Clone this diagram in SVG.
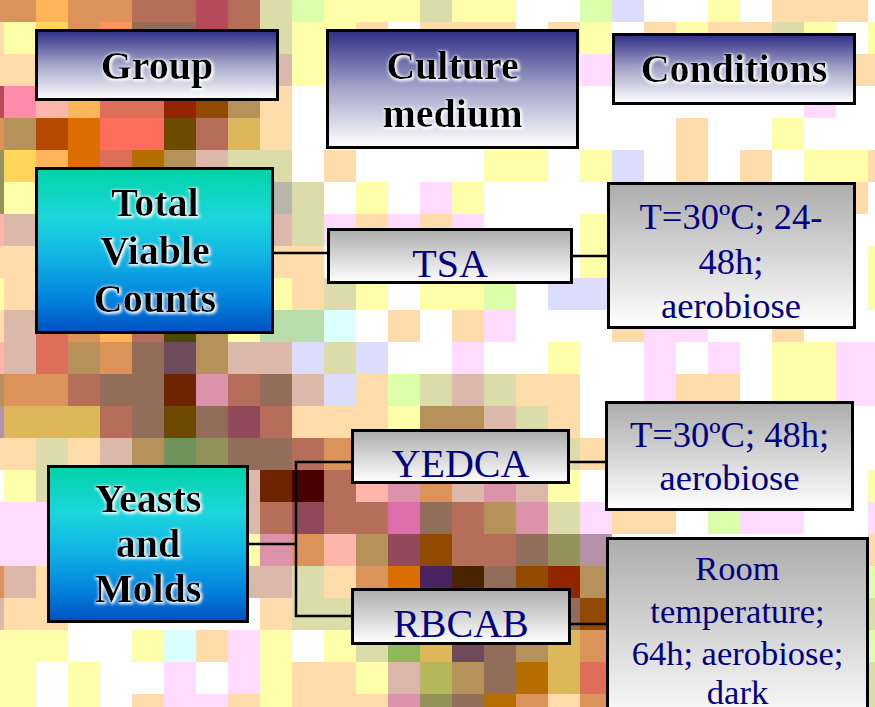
<svg xmlns="http://www.w3.org/2000/svg" width="875" height="707" viewBox="0 0 875 707">
<style>
.hb{font-family:"Liberation Serif","Times New Roman",serif;font-weight:bold;font-size:40px;fill:#000;text-anchor:middle}
.gt{font-family:"Liberation Serif","Times New Roman",serif;font-size:40px;fill:#000080;text-anchor:middle}
.box{stroke:#000;stroke-width:3}
.conn{fill:none;stroke:#000;stroke-width:2.5}
</style>
<defs>
<linearGradient id="gHead" x1="0" y1="0" x2="0" y2="1">
<stop offset="0" stop-color="#2d2d86"/><stop offset="0.5" stop-color="#a6a6ca"/><stop offset="1" stop-color="#ffffff"/>
</linearGradient>
<linearGradient id="gCyan" x1="0" y1="0" x2="0" y2="1">
<stop offset="0" stop-color="#00d4a6"/><stop offset="0.3" stop-color="#1cd6dc"/><stop offset="0.55" stop-color="#10b2e4"/><stop offset="0.8" stop-color="#0282dc"/><stop offset="1" stop-color="#0050c0"/>
</linearGradient>
<linearGradient id="gGray" x1="0" y1="0" x2="0" y2="1">
<stop offset="0" stop-color="#acacac"/><stop offset="1" stop-color="#ffffff"/>
</linearGradient>
<filter id="glow" x="-10%" y="-30%" width="120%" height="160%">
<feMorphology in="SourceAlpha" operator="dilate" radius="1.2" result="d"/>
<feGaussianBlur in="d" stdDeviation="1.5" result="b"/>
<feOffset in="b" dx="1" dy="1" result="o"/>
<feFlood flood-color="#ffffff"/>
<feComposite in2="o" operator="in" result="g"/>
<feMerge><feMergeNode in="g"/><feMergeNode in="SourceGraphic"/></feMerge>
</filter>
</defs>
<g id="background">
<rect x="0" y="0" width="875" height="707" fill="#ffffff"/>
<path fill="#dc935a" d="M-28 -10h32v32h-32zM4 -10h32v32h-32zM68 -10h32v32h-32zM100 -10h32v32h-32zM68 22h32v32h-32zM-28 118h32v32h-32zM68 310h32v32h-32zM100 342h32v32h-32zM4 374h32v32h-32zM36 374h32v32h-32zM324 438h32v32h-32zM420 470h32v32h-32zM292 534h32v32h-32zM-28 566h32v32h-32zM356 566h32v32h-32zM580 630h32v32h-32zM516 694h32v32h-32zM580 694h32v32h-32z"/>
<path fill="#ffb55a" d="M36 -10h32v32h-32zM68 86h32v32h-32zM36 150h32v32h-32zM100 310h32v32h-32z"/>
<path fill="#b66e5a" d="M132 -10h32v32h-32zM164 -10h32v32h-32zM228 -10h32v32h-32zM228 22h32v32h-32zM196 118h32v32h-32zM132 310h32v32h-32zM68 374h32v32h-32zM228 374h32v32h-32zM100 406h32v32h-32zM260 406h32v32h-32zM292 438h32v32h-32zM324 470h32v32h-32zM260 502h32v32h-32zM324 502h32v32h-32zM356 502h32v32h-32zM452 502h32v32h-32zM452 534h32v32h-32zM484 534h32v32h-32z"/>
<path fill="#b64a5a" d="M196 -10h32v32h-32zM196 22h32v32h-32zM-28 86h32v32h-32z"/>
<path fill="#926e5a" d="M132 22h32v32h-32zM164 22h32v32h-32zM132 342h32v32h-32zM100 374h32v32h-32zM132 374h32v32h-32zM260 374h32v32h-32zM132 406h32v32h-32zM196 406h32v32h-32zM228 438h32v32h-32zM260 438h32v32h-32zM420 502h32v32h-32zM516 534h32v32h-32zM484 566h32v32h-32zM548 598h32v32h-32zM484 630h32v32h-32zM484 662h32v32h-32zM452 694h32v32h-32z"/>
<path fill="#ff935a" d="M100 22h32v32h-32z"/>
<path fill="#ffd55a" d="M36 22h32v32h-32zM4 150h32v32h-32z"/>
<path fill="#ff8aaa" d="M4 86h32v32h-32z"/>
<path fill="#ffb6aa" d="M36 86h32v32h-32zM-28 214h32v32h-32zM-28 342h32v32h-32zM356 470h32v32h-32zM324 534h32v32h-32z"/>
<path fill="#dc6e5a" d="M100 86h32v32h-32zM132 86h32v32h-32zM100 150h32v32h-32zM36 310h32v32h-32zM36 342h32v32h-32zM580 662h32v32h-32z"/>
<path fill="#922400" d="M164 86h32v32h-32zM548 566h32v32h-32z"/>
<path fill="#924a00" d="M196 86h32v32h-32zM420 534h32v32h-32zM516 566h32v32h-32zM580 598h32v32h-32z"/>
<path fill="#b6925a" d="M228 86h32v32h-32zM4 118h32v32h-32zM164 150h32v32h-32zM196 310h32v32h-32zM68 342h32v32h-32zM196 342h32v32h-32zM-28 374h32v32h-32zM420 406h32v32h-32zM452 406h32v32h-32zM132 438h32v32h-32zM484 502h32v32h-32zM356 534h32v32h-32zM580 566h32v32h-32zM516 630h32v32h-32zM452 662h32v32h-32z"/>
<path fill="#b64a00" d="M36 118h32v32h-32z"/>
<path fill="#dc6e00" d="M68 118h32v32h-32zM68 150h32v32h-32zM388 566h32v32h-32z"/>
<path fill="#ff6e5a" d="M100 118h32v32h-32zM132 118h32v32h-32z"/>
<path fill="#6e4a00" d="M164 118h32v32h-32zM164 406h32v32h-32z"/>
<path fill="#dcb85a" d="M228 118h32v32h-32zM4 406h32v32h-32zM36 406h32v32h-32zM68 406h32v32h-32zM420 630h32v32h-32zM548 630h32v32h-32zM548 662h32v32h-32z"/>
<path fill="#b66e00" d="M132 150h32v32h-32zM516 662h32v32h-32zM484 694h32v32h-32z"/>
<path fill="#92925a" d="M-28 150h32v32h-32zM-28 182h32v32h-32zM196 438h32v32h-32zM548 534h32v32h-32zM420 694h32v32h-32z"/>
<path fill="#4a4a00" d="M164 310h32v32h-32z"/>
<path fill="#6e4a5a" d="M164 342h32v32h-32zM452 630h32v32h-32z"/>
<path fill="#6e2400" d="M164 374h32v32h-32zM260 470h32v32h-32z"/>
<path fill="#dc92aa" d="M196 374h32v32h-32zM388 470h32v32h-32zM484 470h32v32h-32zM516 502h32v32h-32zM260 534h32v32h-32zM388 694h32v32h-32z"/>
<path fill="#924a5a" d="M228 406h32v32h-32zM292 502h32v32h-32zM388 534h32v32h-32z"/>
<path fill="#4a0000" d="M292 470h32v32h-32z"/>
<path fill="#6e925a" d="M164 438h32v32h-32z"/>
<path fill="#dc6eaa" d="M388 502h32v32h-32z"/>
<path fill="#4a2460" d="M420 566h32v32h-32z"/>
<path fill="#4a2400" d="M452 566h32v32h-32z"/>
<path fill="#b692aa" d="M-28 406h32v32h-32zM580 534h32v32h-32z"/>
<path fill="#92b65a" d="M388 630h32v32h-32z"/>
<path fill="#b6b65a" d="M420 662h32v32h-32z"/>
<path fill="#b6b6aa" d="M260 182h32v32h-32z"/>
<path fill="#b8dcaa" d="M260 310h32v32h-32zM292 310h32v32h-32z"/>
<path fill="#dcffff" d="M324 310h32v32h-32zM164 630h32v32h-32z"/>
<path fill="#dcffaa" d="M292 -10h32v32h-32zM580 -10h32v32h-32zM484 278h32v32h-32zM388 374h32v32h-32zM708 502h32v32h-32zM868 566h32v32h-32zM868 630h32v32h-32z"/>
<path fill="#dcdcff" d="M612 -10h32v32h-32zM612 150h32v32h-32zM548 278h32v32h-32zM580 278h32v32h-32zM292 342h32v32h-32zM356 342h32v32h-32zM324 374h32v32h-32z"/>
<path fill="#ffdcff" d="M580 54h32v32h-32zM804 86h32v32h-32zM420 182h32v32h-32zM324 214h32v32h-32zM388 214h32v32h-32zM452 214h32v32h-32zM484 310h32v32h-32zM644 310h32v32h-32zM676 310h32v32h-32zM452 342h32v32h-32zM644 342h32v32h-32zM708 342h32v32h-32zM836 342h32v32h-32zM868 342h32v32h-32zM644 374h32v32h-32zM836 374h32v32h-32zM868 374h32v32h-32zM-28 502h32v32h-32zM4 502h32v32h-32zM36 502h32v32h-32zM580 502h32v32h-32zM740 502h32v32h-32zM772 502h32v32h-32zM868 502h32v32h-32zM-28 534h32v32h-32zM4 534h32v32h-32zM36 534h32v32h-32zM228 630h32v32h-32zM164 662h32v32h-32zM228 662h32v32h-32zM164 694h32v32h-32zM196 694h32v32h-32z"/>
<path fill="#dcdcaa" d="M260 -10h32v32h-32zM420 -10h32v32h-32zM260 22h32v32h-32zM772 22h32v32h-32zM228 150h32v32h-32zM260 150h32v32h-32zM292 182h32v32h-32zM292 214h32v32h-32zM324 278h32v32h-32zM324 342h32v32h-32zM420 374h32v32h-32zM484 374h32v32h-32zM516 406h32v32h-32zM36 438h32v32h-32zM548 438h32v32h-32zM36 470h32v32h-32zM548 502h32v32h-32zM292 566h32v32h-32zM292 598h32v32h-32zM324 598h32v32h-32zM868 598h32v32h-32zM356 630h32v32h-32zM868 662h32v32h-32zM868 694h32v32h-32z"/>
<path fill="#dcb8aa" d="M260 54h32v32h-32zM196 150h32v32h-32zM4 214h32v32h-32zM260 214h32v32h-32zM4 310h32v32h-32zM4 342h32v32h-32zM228 342h32v32h-32zM260 342h32v32h-32zM292 374h32v32h-32zM452 374h32v32h-32zM484 406h32v32h-32zM100 438h32v32h-32zM228 470h32v32h-32zM452 470h32v32h-32zM516 470h32v32h-32zM228 502h32v32h-32zM4 566h32v32h-32zM228 566h32v32h-32zM260 566h32v32h-32zM-28 598h32v32h-32zM388 662h32v32h-32z"/>
<path fill="#ffffaa" d="M324 -10h32v32h-32zM356 -10h32v32h-32zM388 -10h32v32h-32zM452 -10h32v32h-32zM484 -10h32v32h-32zM708 -10h32v32h-32zM4 22h32v32h-32zM292 22h32v32h-32zM324 22h32v32h-32zM580 22h32v32h-32zM676 22h32v32h-32zM804 22h32v32h-32zM868 22h32v32h-32zM292 54h32v32h-32zM324 54h32v32h-32zM772 118h32v32h-32zM484 150h32v32h-32zM516 150h32v32h-32zM580 150h32v32h-32zM804 150h32v32h-32zM836 150h32v32h-32zM4 182h32v32h-32zM356 182h32v32h-32zM452 182h32v32h-32zM580 214h32v32h-32zM580 246h32v32h-32zM868 246h32v32h-32zM-28 278h32v32h-32zM260 278h32v32h-32zM356 278h32v32h-32zM420 278h32v32h-32zM452 278h32v32h-32zM868 278h32v32h-32zM228 310h32v32h-32zM548 342h32v32h-32zM772 342h32v32h-32zM804 342h32v32h-32zM772 374h32v32h-32zM804 374h32v32h-32zM388 406h32v32h-32zM4 470h32v32h-32zM548 470h32v32h-32zM868 470h32v32h-32zM228 534h32v32h-32zM-28 630h32v32h-32zM4 630h32v32h-32zM36 630h32v32h-32zM132 630h32v32h-32zM260 630h32v32h-32zM324 630h32v32h-32zM-28 662h32v32h-32zM4 662h32v32h-32zM68 662h32v32h-32zM260 662h32v32h-32zM356 662h32v32h-32zM-28 694h32v32h-32zM4 694h32v32h-32zM68 694h32v32h-32zM260 694h32v32h-32z"/>
<path fill="#ffdcaa" d="M772 -10h32v32h-32zM804 -10h32v32h-32zM836 -10h32v32h-32zM-28 22h32v32h-32zM356 22h32v32h-32zM420 22h32v32h-32zM452 22h32v32h-32zM484 22h32v32h-32zM548 22h32v32h-32zM644 22h32v32h-32zM708 22h32v32h-32zM740 22h32v32h-32zM-28 54h32v32h-32zM4 54h32v32h-32zM836 54h32v32h-32zM868 54h32v32h-32zM260 86h32v32h-32zM260 118h32v32h-32zM676 118h32v32h-32zM324 150h32v32h-32zM676 150h32v32h-32zM740 150h32v32h-32zM868 150h32v32h-32zM836 182h32v32h-32zM356 214h32v32h-32zM420 214h32v32h-32zM-28 246h32v32h-32zM4 246h32v32h-32zM260 246h32v32h-32zM292 246h32v32h-32zM4 278h32v32h-32zM292 278h32v32h-32zM-28 310h32v32h-32zM388 310h32v32h-32zM452 310h32v32h-32zM612 310h32v32h-32zM772 310h32v32h-32zM356 374h32v32h-32zM516 374h32v32h-32zM548 374h32v32h-32zM676 374h32v32h-32zM708 374h32v32h-32zM292 406h32v32h-32zM324 406h32v32h-32zM356 406h32v32h-32zM548 406h32v32h-32zM-28 438h32v32h-32zM4 438h32v32h-32zM68 438h32v32h-32zM580 438h32v32h-32zM612 502h32v32h-32zM644 502h32v32h-32zM868 534h32v32h-32zM36 566h32v32h-32zM324 566h32v32h-32zM4 598h32v32h-32zM36 598h32v32h-32zM260 598h32v32h-32zM196 630h32v32h-32zM292 662h32v32h-32zM324 662h32v32h-32zM132 694h32v32h-32zM228 694h32v32h-32zM292 694h32v32h-32zM324 694h32v32h-32zM356 694h32v32h-32zM548 694h32v32h-32z"/>
</g>
<g id="connectors">
<path class="conn" d="M274 253H328"/>
<path class="conn" d="M572 256H608"/>
<path class="conn" d="M248 544H296"/>
<path class="conn" d="M352 462H296V616H352"/>
<path class="conn" d="M569 462H606"/>
<path class="conn" d="M570 624H607"/>
</g>
<g id="hdr-group">
<rect class="box" x="36.5" y="30.5" width="241" height="69" fill="url(#gHead)"/>
<text class="hb" filter="url(#glow)" x="157" y="79">Group</text>
</g>
<g id="hdr-medium">
<rect class="box" x="327.5" y="30.5" width="250" height="117" fill="url(#gHead)"/>
<text class="hb" filter="url(#glow)" x="452.5" y="79">Culture</text>
<text class="hb" filter="url(#glow)" x="452.5" y="127">medium</text>
</g>
<g id="hdr-conditions">
<rect class="box" x="613.5" y="34.5" width="241" height="69" fill="url(#gHead)"/>
<text class="hb" filter="url(#glow)" x="734" y="82">Conditions</text>
</g>
<g id="grp-tvc">
<rect class="box" x="36.5" y="168.5" width="236" height="164" fill="url(#gCyan)"/>
<text class="hb" filter="url(#glow)" x="155" y="216">Total</text>
<text class="hb" filter="url(#glow)" x="155" y="264">Viable</text>
<text class="hb" filter="url(#glow)" x="155" y="312">Counts</text>
</g>
<g id="med-tsa">
<rect class="box" x="328.5" y="229.5" width="243" height="53" fill="url(#gGray)"/>
<text class="gt" x="450" y="277">TSA</text>
</g>
<g id="cond-tsa">
<rect class="box" x="608.5" y="183.5" width="246" height="144" fill="url(#gGray)"/>
<text class="gt" style="font-size:36.5px" x="731" y="229">T=30ºC; 24-</text>
<text class="gt" style="font-size:36.5px" x="731" y="273.5">48h;</text>
<text class="gt" style="font-size:36.5px" x="731" y="318">aerobiose</text>
</g>
<g id="grp-ym">
<rect class="box" x="48.5" y="466.5" width="199" height="155" fill="url(#gCyan)"/>
<text class="hb" filter="url(#glow)" x="148" y="512">Yeasts</text>
<text class="hb" filter="url(#glow)" x="148" y="557">and</text>
<text class="hb" filter="url(#glow)" x="148" y="602">Molds</text>
</g>
<g id="med-yedca">
<rect class="box" x="352.5" y="430.5" width="216" height="52" fill="url(#gGray)"/>
<text class="gt" x="460.5" y="477">YEDCA</text>
</g>
<g id="cond-yedca">
<rect class="box" x="606.5" y="402.5" width="246" height="107" fill="url(#gGray)"/>
<text class="gt" style="font-size:36.5px" x="729.5" y="447">T=30ºC; 48h;</text>
<text class="gt" style="font-size:36.5px" x="729.5" y="490">aerobiose</text>
</g>
<g id="med-rbcab">
<rect class="box" x="352.5" y="589.5" width="217" height="54" fill="url(#gGray)"/>
<text class="gt" x="461" y="637">RBCAB</text>
</g>
<g id="cond-rbcab">
<rect class="box" x="607.5" y="538.5" width="260" height="190" fill="url(#gGray)"/>
<text class="gt" style="font-size:34.5px" x="737.5" y="580">Room</text>
<text class="gt" style="font-size:34.5px" x="737.5" y="623">temperature;</text>
<text class="gt" style="font-size:34.5px" x="737.5" y="665">64h; aerobiose;</text>
<text class="gt" style="font-size:34.5px" x="737.5" y="704">dark</text>
</g>
</svg>
